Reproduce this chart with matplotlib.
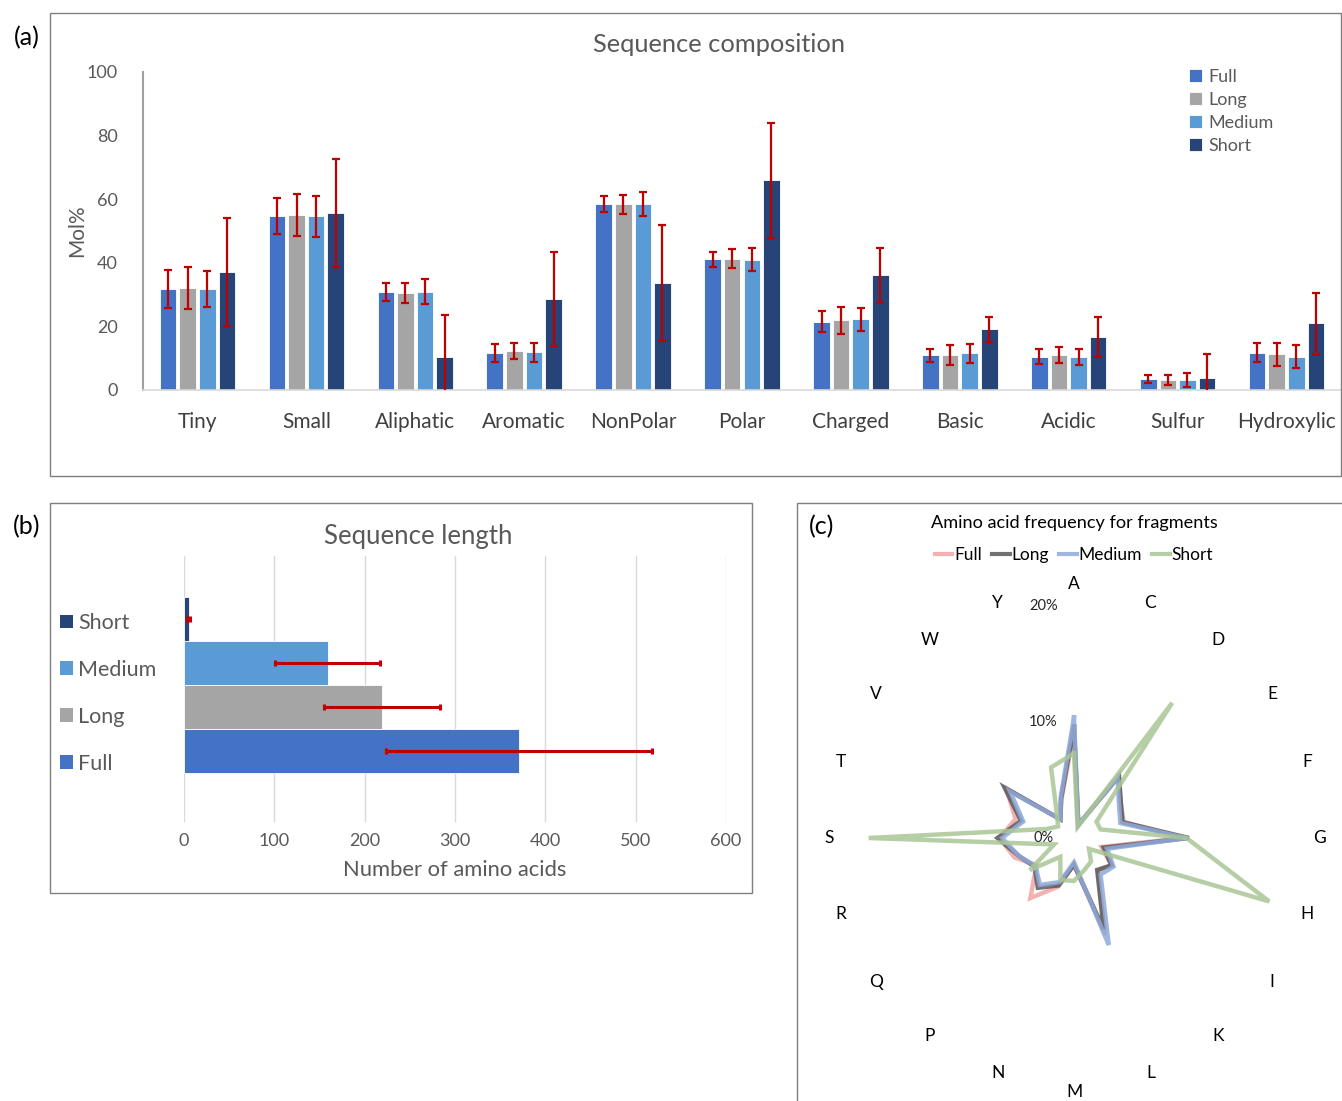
import matplotlib
matplotlib.use('Agg')
import matplotlib.pyplot as plt
import numpy as np
from matplotlib.patches import Rectangle, Patch
from matplotlib.lines import Line2D

plt.rcParams['font.family'] = ['Lato', 'DejaVu Sans']

# ---------------- Data ----------------
# Panel (a): sequence composition (Mol%)
comp_categories = ['Tiny', 'Small', 'Aliphatic', 'Aromatic', 'NonPolar', 'Polar',
                   'Charged', 'Basic', 'Acidic', 'Sulfur', 'Hydroxylic']
series_names = ['Full', 'Long', 'Medium', 'Short']
comp_full = [31.7, 54.6, 30.8, 11.7, 58.4, 41.1, 21.5, 10.9, 10.5, 3.4, 11.7]
comp_long = [32.2, 55.0, 30.5, 12.4, 58.4, 41.3, 21.9, 11.0, 10.9, 3.1, 11.2]
comp_medium = [31.7, 54.6, 30.9, 11.8, 58.6, 41.0, 22.2, 11.5, 10.5, 3.1, 10.5]
comp_short = [37.0, 55.6, 10.4, 28.6, 33.7, 65.9, 36.1, 19.1, 16.8, 3.7, 21.0]
err_full = [6.0, 5.7, 2.7, 2.8, 2.5, 2.3, 3.3, 2.1, 2.3, 1.3, 3.0]
err_long = [6.6, 6.6, 3.0, 2.5, 2.9, 3.0, 4.3, 3.2, 2.5, 1.6, 3.7]
err_medium = [5.7, 6.4, 4.0, 3.1, 3.8, 3.7, 3.7, 3.0, 2.5, 2.1, 3.7]
err_short = [17.0, 17.0, 13.2, 14.8, 18.2, 18.2, 8.6, 4.0, 6.3, 7.5, 9.6]

# Panel (b): sequence length (number of amino acids)
length_labels = ['Full', 'Long', 'Medium', 'Short']
length_means = [371, 219, 159, 5]
length_errs = [147, 64, 58, 2]

# Panel (c): amino acid frequency (%)
amino_acids = ['A', 'C', 'D', 'E', 'F', 'G', 'H', 'I', 'K', 'L',
               'M', 'N', 'P', 'Q', 'R', 'S', 'T', 'V', 'W', 'Y']
aa_full = [9.2, 1.2, 6.5, 5.0, 4.5, 9.5, 2.5, 4.0, 3.5, 8.8,
           2.3, 4.4, 6.4, 4.0, 5.4, 6.4, 5.3, 7.2, 2.0, 3.5]
aa_long = [9.6, 1.2, 6.6, 5.0, 4.4, 9.9, 2.7, 4.0, 3.4, 8.3,
           2.3, 4.3, 5.3, 4.2, 5.0, 6.6, 4.8, 7.4, 2.0, 3.6]
aa_medium = [10.4, 1.2, 6.4, 4.8, 4.2, 9.7, 3.0, 4.2, 3.9, 9.7,
             2.1, 4.0, 5.0, 4.1, 5.0, 6.2, 4.6, 6.8, 2.0, 3.7]
aa_short = [7.3, 1.0, 14.4, 2.4, 2.4, 9.7, 17.7, 1.6, 2.5, 2.9,
            3.7, 3.8, 2.0, 4.7, 1.8, 17.7, 2.5, 1.7, 2.5, 6.4]
radial_ticks = [0, 10, 20]
radial_labels = ['0%', '10%', '20%']

# ---------------- Styles ----------------
bar_colors = ['#4472C4', '#A5A5A5', '#5B9BD5', '#264478']
err_color = '#C00000'
radar_colors = ['#F4A3A3', '#595959', '#8EA9DB', '#A9C695']
txt = '#595959'

W, H = 1342, 1101
fig = plt.figure(figsize=(W / 100, H / 100), dpi=100)

def fx(px):
    return px / W

def fy(py):
    return 1 - py / H

# Panel boxes
for (x0, y0, x1, y1) in [(50, 13, 1341, 476), (50, 503, 752, 893), (797, 503, 1345, 1105)]:
    fig.patches.append(Rectangle((fx(x0), fy(y1)), fx(x1) - fx(x0), fy(y0) - fy(y1),
                                 transform=fig.transFigure, fill=False,
                                 edgecolor='#7F7F7F', lw=1.0, zorder=0))

# ---------------- Panel (a) ----------------
axa = fig.add_axes([fx(143), fy(390), fx(1341) - fx(143), fy(72) - fy(390)])
x = np.arange(len(comp_categories))
vals = [comp_full, comp_long, comp_medium, comp_short]
errs = [err_full, err_long, err_medium, err_short]
pitch = 0.18
bw = 0.152
for i, (v, e) in enumerate(zip(vals, errs)):
    xs = x + (i - 1.5) * pitch
    axa.bar(xs, v, width=bw, color=bar_colors[i], edgecolor='white', linewidth=0.6,
            label=series_names[i], zorder=2)
    axa.errorbar(xs, v, yerr=e, fmt='none', ecolor=err_color, elinewidth=1.6,
                 capsize=3, capthick=1.6, zorder=3)
axa.set_xlim(-0.5, len(comp_categories) - 0.5)
axa.set_ylim(0, 100)
axa.set_yticks(np.arange(0, 101, 20))
axa.set_xticks(x)
axa.set_xticklabels(comp_categories, fontsize=15, color='#404040')
axa.tick_params(axis='x', length=0, pad=16)
axa.tick_params(axis='y', length=0, pad=18, labelsize=13, labelcolor=txt)
for s in ['top', 'right']:
    axa.spines[s].set_visible(False)
axa.spines['left'].set_color('#A0A0A0')
axa.spines['left'].set_linewidth(1.5)
axa.spines['bottom'].set_color('#D9D9D9')
axa.spines['bottom'].set_linewidth(1.2)
axa.set_ylabel('Mol%', fontsize=15, color=txt, labelpad=0)
fig.text(fx(719), fy(45), 'Sequence composition', fontsize=18.3, color=txt, ha='center', va='center')
leg = axa.legend(loc='upper left', bbox_to_anchor=(fx(1189), fy(69)), bbox_transform=fig.transFigure,
                 frameon=False, fontsize=13, handlelength=0.7, handleheight=0.7,
                 handletextpad=0.4, labelspacing=0.39, borderpad=0, borderaxespad=0)
for t in leg.get_texts():
    t.set_color(txt)
fig.text(fx(27), fy(38), '(a)', fontsize=18, ha='center', va='center')

# ---------------- Panel (b) ----------------
axb = fig.add_axes([fx(184), fy(822), fx(726) - fx(184), fy(556) - fy(822)])
yb = np.arange(len(length_labels))
for i in range(len(length_labels)):
    axb.barh(yb[i], length_means[i], height=1.0, color=bar_colors[i], edgecolor='white',
             linewidth=0.6, zorder=2)
axb.errorbar(length_means, yb, xerr=length_errs, fmt='none', ecolor=err_color,
             elinewidth=2.2, capsize=2.5, capthick=2.2, zorder=3)
axb.set_xlim(0, 600)
axb.set_ylim(-1.61, 4.43)
axb.set_xticks(np.arange(0, 601, 100))
axb.set_yticks([])
axb.grid(axis='x', color='#D9D9D9', lw=1.0, zorder=0)
axb.set_axisbelow(True)
for s in axb.spines.values():
    s.set_visible(False)
axb.tick_params(axis='x', length=0, pad=8, labelsize=13, labelcolor=txt)
axb.set_xlabel('Number of amino acids', fontsize=15.8, color=txt, labelpad=8)
fig.text(fx(418), fy(536), 'Sequence length', fontsize=18.5, color=txt, ha='center', va='center')
handles_b = [Patch(facecolor=bar_colors[i], label=length_labels[i]) for i in [3, 2, 1, 0]]
legb = fig.legend(handles=handles_b, loc='upper left', bbox_to_anchor=(fx(60), fy(613)),
                  frameon=False, fontsize=15.5, handlelength=0.6, handleheight=0.6,
                  handletextpad=0.25, labelspacing=1.25, borderpad=0, borderaxespad=0)
for t in legb.get_texts():
    t.set_color(txt)
fig.text(fx(27), fy(527), '(b)', fontsize=18, ha='center', va='center')

# ---------------- Panel (c) ----------------
R = 232
axc = fig.add_axes([fx(1074 - R), fy(838 + R), fx(2 * R), fy(0) - fy(2 * R)], projection='polar')
axc.set_theta_zero_location('N')
axc.set_theta_direction(-1)
n = len(amino_acids)
theta = np.arange(n) * 2 * np.pi / n
theta_c = np.concatenate([theta, theta[:1]])
for vals_c, col, name in zip([aa_full, aa_long, aa_medium, aa_short], radar_colors, series_names):
    vv = np.concatenate([vals_c, vals_c[:1]])
    axc.plot(theta_c, vv, color=col, lw=3.2, alpha=0.85, label=name, solid_joinstyle='miter')
axc.set_ylim(0, 20)
axc.set_xticks([])
axc.set_yticks([])
axc.grid(False)
axc.spines['polar'].set_visible(False)
axc.patch.set_alpha(0)
for t, lab in zip(theta, amino_acids):
    rpx = 245 + 9 * abs(np.cos(t)) ** 30
    axc.text(t, 20 * rpx / R, lab, fontsize=12.5, ha='center', va='center', color='black')
for rt, rl in zip(radial_ticks, radial_labels):
    axc.annotate(rl, xy=(0, rt), xytext=(-22, 0), textcoords='offset points',
                 fontsize=10.5, ha='center', va='center', color='#262626')
fig.text(fx(1074), fy(523), 'Amino acid frequency for fragments', fontsize=13.1, ha='center', va='center')
handles_c = [Line2D([0], [0], color=radar_colors[i], lw=3, alpha=0.85, label=series_names[i]) for i in range(4)]
legc = fig.legend(handles=handles_c, loc='center', bbox_to_anchor=(fx(1074), fy(555)), ncol=4,
                  frameon=False, fontsize=12.5, handlelength=1.0, handletextpad=0.1,
                  columnspacing=0.6, borderpad=0, borderaxespad=0)
fig.text(fx(822), fy(527), '(c)', fontsize=18, ha='center', va='center')

fig.savefig('out.png', dpi=100)
